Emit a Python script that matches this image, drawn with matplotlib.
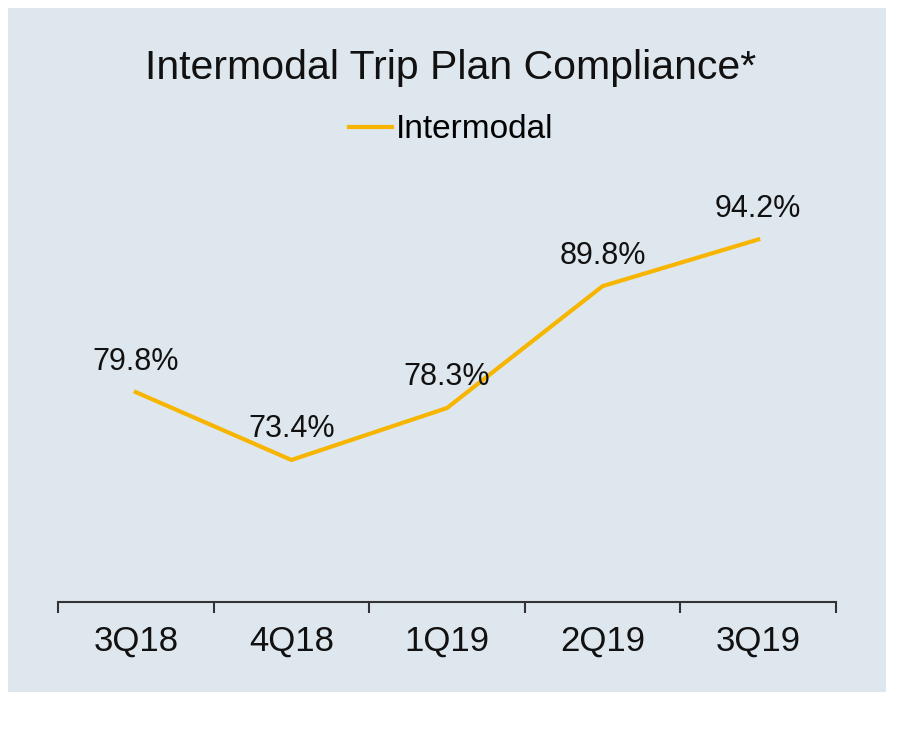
import matplotlib
matplotlib.use("Agg")
import matplotlib.pyplot as plt
from matplotlib.patches import Rectangle

quarters = ["3Q18", "4Q18", "1Q19", "2Q19", "3Q19"]
compliance = [79.8, 73.4, 78.3, 89.8, 94.2]

plt.rcParams['font.family'] = ['Liberation Sans', 'DejaVu Sans']
W, H = 902, 734
gold = '#F7B500'
panel = '#DFE7EE'

fig = plt.figure(figsize=(W / 100, H / 100), dpi=100)
fig.patch.set_facecolor('white')
# light panel behind everything
fig.patches.append(Rectangle((8 / W, 1 - 692 / H), 878 / W, 684 / H,
                             transform=fig.transFigure, facecolor=panel,
                             edgecolor='none', zorder=-10))

ax = fig.add_axes([58 / W, 1 - 602 / H, 778 / W, 424 / H])
ax.set_facecolor('none')
ax.set_zorder(1)

x = list(range(len(quarters)))
line, = ax.plot(x, compliance, color=gold, lw=3, solid_joinstyle='round',
                label='Intermodal')
for xi, v in zip(x, compliance):
    ax.annotate(f"{v:.1f}%", (xi, v), xytext=(0, 22), textcoords='offset points',
                ha='center', va='center', fontsize=22, color='#111111')

ax.set_xlim(-0.5, len(quarters) - 0.5)
ax.set_ylim(60, 100)

for s in ['top', 'right', 'left']:
    ax.spines[s].set_visible(False)
ax.spines['bottom'].set_color('#333333')
ax.spines['bottom'].set_linewidth(1.5)
ax.set_yticks([])

ax.set_xticks([i - 0.5 for i in range(len(quarters) + 1)])
ax.set_xticklabels([])
ax.tick_params(axis='x', which='major', direction='out', length=8, width=1.5,
               color='#333333')
ax.set_xticks(x, minor=True)
ax.set_xticklabels(quarters, minor=True, fontsize=25)
ax.tick_params(axis='x', which='minor', length=0, pad=16, labelcolor='#111111')

fig.text(0.5, 1 - 68 / H, "Intermodal Trip Plan Compliance*", ha='center',
         va='center', fontsize=29.5, color='#111111')
fig.legend(handles=[line], loc='center', bbox_to_anchor=(0.5, 1 - 130 / H),
           frameon=False, fontsize=24, handlelength=1.3, handletextpad=0.1)

fig.savefig("out.png", dpi=100)
